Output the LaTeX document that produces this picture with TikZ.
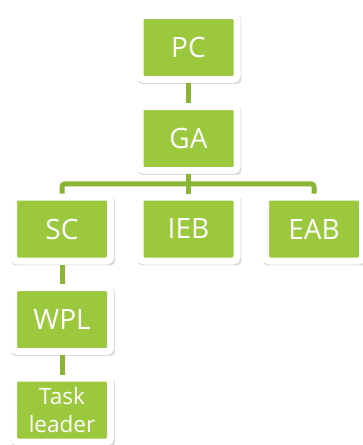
\documentclass[tikz,border=0pt]{standalone}
\usepackage{fontspec}
\setmainfont{Open Sans}
\usepackage{tikz}
\usetikzlibrary{shadows, calc}

\definecolor{leafgreen}{RGB}{155,200,60}
\definecolor{linkgreen}{RGB}{138,180,52}

\begin{document}
\begin{tikzpicture}[
    x=1pt, y=-1pt,
    unit/.style={fill=leafgreen, draw=white, line width=7pt, rounded corners=4pt,
        minimum width=97pt, minimum height=64pt, inner sep=0pt, align=center,
        text=white, font=\fontsize{28}{32}\selectfont,
        drop shadow={shadow xshift=1pt, shadow yshift=-2pt, shadow scale=1.07, opacity=0.3}},
    smallunit/.style={unit, font=\fontsize{22.5}{28}\selectfont},
    link/.style={draw=linkgreen, line width=5pt}
]
    \useasboundingbox (0, 0) rectangle (362, 445);

    % Top of the tree.
    \node[unit] (pc) at (188.5, 47.5) {PC};
    \node[unit] (ga) at (188.5, 138.5) {GA};

    % Boards below the assembly.
    \node[unit] (sc) at (62, 229) {SC};
    \node[unit] (ieb) at (188.5, 229) {IEB};
    \node[unit] (eab) at (314, 229) {EAB};

    % Chain under SC.
    \node[unit] (wpl) at (62, 319.5) {WPL};
    \node[smallunit] (task) at (62, 410) {Task\\leader};

    \coordinate (split) at ($(ga.south)!0.5!(ieb.north)$);
    \draw[link] (pc) -- (ga);
    \draw[link] (ga) -- (ieb);
    \draw[link, rounded corners=3pt] (sc.north) |- (split) -| (eab.north);
    \draw[link] (sc) -- (wpl);
    \draw[link] (wpl) -- (task);

\end{tikzpicture}
\end{document}
